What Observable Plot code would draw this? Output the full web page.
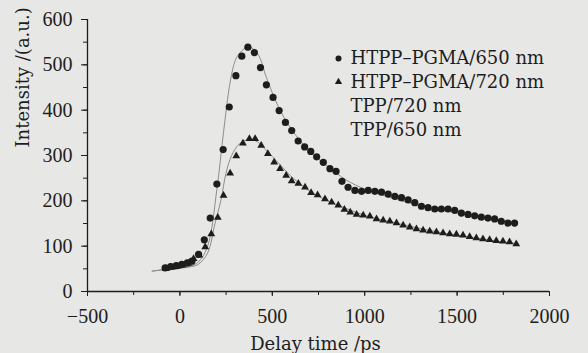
<!DOCTYPE html>
<html>
<head>
<meta charset="utf-8">
<script src="https://cdn.jsdelivr.net/npm/d3@7"></script>
<script src="https://cdn.jsdelivr.net/npm/@observablehq/plot@0.6"></script>
<style>
  html, body { margin: 0; padding: 0; background: #e7e7e5; }
  #chart { width: 588px; height: 353px; overflow: hidden; }
</style>
</head>
<body>
<div id="chart"></div>
<script>
// HTPP-PGMA / 650 nm (circles)
const time650 = [-80, -50, -20, 10, 40, 65, 101, 132, 164, 200, 234, 267, 303, 335, 368, 403, 436, 468, 504, 537, 571, 605, 640, 675, 708, 740, 776, 812, 845, 877, 910, 947, 983, 1019, 1055, 1091, 1127, 1163, 1199, 1235, 1271, 1307, 1343, 1379, 1415, 1451, 1487, 1523, 1559, 1595, 1631, 1667, 1703, 1739, 1775, 1811];
const int650  = [52, 55, 57, 60, 63, 67, 82, 114, 162, 237, 313, 407, 476, 519, 539, 527, 494, 456, 428, 399, 373, 355, 332, 319, 309, 297, 285, 271, 265, 243, 230, 223, 221, 223, 221, 219, 215, 210, 207, 202, 196, 188, 185, 182, 182, 182, 179, 173, 170, 167, 164, 162, 160, 155, 151, 151];

// HTPP-PGMA / 720 nm (triangles)
const time720 = [-75, -45, -15, 15, 45, 74, 105, 137, 170, 205, 236, 272, 305, 341, 376, 407, 440, 476, 510, 542, 575, 605, 641, 677, 710, 745, 785, 821, 857, 890, 922, 956, 992, 1028, 1064, 1100, 1136, 1172, 1208, 1244, 1280, 1316, 1352, 1388, 1424, 1460, 1496, 1532, 1568, 1604, 1640, 1676, 1712, 1748, 1784, 1820];
const int720  = [50, 53, 55, 58, 62, 72, 80, 98, 127, 163, 212, 261, 299, 327, 337, 337, 322, 304, 285, 271, 256, 244, 238, 230, 218, 213, 204, 197, 190, 181, 175, 170, 168, 166, 160, 157, 155, 151, 146, 142, 138, 135, 133, 131, 129, 127, 126, 124, 121, 118, 116, 114, 112, 111, 109, 105];

// thin fitted curves (TPP)
const fitTime650 = [-150, -50, 50, 100, 150, 200, 236, 272, 300, 326, 370, 420, 470, 530, 600, 700, 800, 900, 1000, 1100, 1200, 1300, 1400, 1500, 1600, 1700, 1820];
const fitInt650  = [45, 50, 55, 65, 100, 225, 351, 462, 510, 527, 540, 525, 470, 410, 360, 310, 276, 246, 226, 212, 200, 190, 181, 173, 165, 158, 150];
const fitTime720 = [-150, -50, 50, 100, 150, 190, 222, 250, 280, 320, 370, 420, 470, 530, 600, 700, 800, 900, 1000, 1100, 1200, 1300, 1400, 1500, 1600, 1700, 1830];
const fitInt720  = [45, 50, 54, 60, 85, 150, 201, 262, 300, 325, 335, 330, 310, 285, 255, 222, 200, 183, 168, 157, 148, 139, 131, 124, 118, 112, 105];

const xTicks = [-500, 0, 500, 1000, 1500, 2000];
const xMinorTicks = [-500, -250, 0, 250, 500, 750, 1000, 1250, 1500, 1750, 2000];
const yTicks = [0, 100, 200, 300, 400, 500, 600];
const yMinorTicks = [0, 50, 100, 150, 200, 250, 300, 350, 400, 450, 500, 550, 600];

const legendLabels = ["HTPP\u2013PGMA/650 nm", "HTPP\u2013PGMA/720 nm", "TPP/720 nm", "TPP/650 nm"];
const legendSymbols = ["circle", "triangle"];
const xLabel = "Delay time /ps";
const yLabel = "Intensity /(a.u.)";

const data650 = time650.map((t, i) => ({t, v: int650[i]}));
const data720 = time720.map((t, i) => ({t, v: int720[i]}));
const fit650 = fitTime650.map((t, i) => ({t, v: fitInt650[i]}));
const fit720 = fitTime720.map((t, i) => ({t, v: fitInt720[i]}));

const ink = "#1d1d1d";
const labelFont = "'DejaVu Serif', serif";
const legendDy = [39, 62.5, 86.5, 110.5];

const fmt = d => d < 0 ? "\u2212" + Math.abs(d) : String(d);

const chart = Plot.plot({
  width: 588,
  height: 353,
  marginLeft: 87,
  marginRight: 39,
  marginTop: 19,
  marginBottom: 62,
  style: {background: "#e7e7e5", fontFamily: "'Liberation Serif', serif", fontSize: "20px", color: ink},
  x: {domain: [-500, 2000]},
  y: {domain: [0, 600]},
  marks: [
    Plot.axisX({ticks: xMinorTicks, tickSize: 4, tickFormat: () => "", label: null, stroke: ink}),
    Plot.axisX({ticks: xTicks, tickSize: 5, tickPadding: 12, tickFormat: fmt, label: null, stroke: ink, fill: ink}),
    Plot.axisY({ticks: yMinorTicks, tickSize: 4, tickFormat: () => "", label: null, stroke: ink}),
    Plot.axisY({ticks: yTicks, tickSize: 6, tickPadding: 9, tickFormat: fmt, label: null, stroke: ink, fill: ink}),
    Plot.ruleY([0], {stroke: ink, strokeWidth: 1.3}),
    Plot.ruleX([-500], {stroke: ink, strokeWidth: 1.3}),
    Plot.line(fit720, {x: "t", y: "v", stroke: "#8c8c8c", strokeWidth: 1, curve: "catmull-rom"}),
    Plot.line(fit650, {x: "t", y: "v", stroke: "#8c8c8c", strokeWidth: 1, curve: "catmull-rom"}),
    Plot.dot(data720, {x: "t", y: "v", symbol: "triangle", r: 2.9, fill: ink, stroke: "none"}),
    Plot.dot(data650, {x: "t", y: "v", symbol: "circle", r: 3.6, fill: ink, stroke: "none"}),
    // legend
    ...legendSymbols.map((s, i) => Plot.dot([s], {frameAnchor: "top-left", dx: 251, dy: legendDy[i], symbol: s, r: s === "circle" ? 3 : 2.7, fill: ink, stroke: "none"})),
    ...legendLabels.map((s, i) => Plot.text([s], {frameAnchor: "top-left", dx: 263, dy: legendDy[i], text: d => d, textAnchor: "start", lineAnchor: "middle", fontFamily: labelFont, fontSize: 18, fill: ink})),
    // axis titles
    Plot.text([xLabel], {frameAnchor: "bottom", dx: -3, dy: 53, text: d => d, lineAnchor: "middle", fontFamily: labelFont, fontSize: 18, fill: ink}),
    Plot.text([yLabel], {frameAnchor: "left", dx: -64, dy: -8, rotate: -90, text: d => d, lineAnchor: "middle", fontFamily: labelFont, fontSize: 18, fill: ink})
  ]
});
document.getElementById("chart").appendChild(chart);
</script>
</body>
</html>
